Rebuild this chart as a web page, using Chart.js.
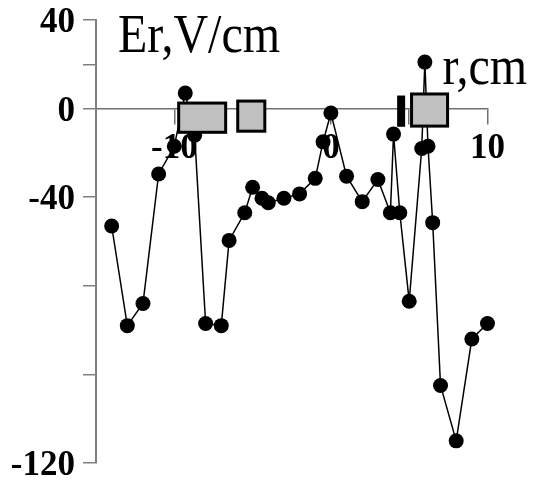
<!DOCTYPE html>
<html>
<head>
<meta charset="utf-8">
<script src="https://cdn.jsdelivr.net/npm/chart.js@4"></script>
<style>
  body { margin: 0; background: #fff; }
  canvas { display: block; }
</style>
</head>
<body>
<canvas id="grafico-er" width="544" height="480"></canvas>
<script>
// radial profile of Er
const rValues = [-14, -13, -12, -11, -10, -9.3, -8.7, -8, -7, -6.5, -5.5, -5, -4.4, -4, -3, -2, -1, -0.5, 0,
  1, 2, 3, 3.8, 4, 4.4, 5, 5.8, 6, 6.2, 6.5, 7, 8, 9, 10];
const erValues = [-53, -98, -88, -29.5, -17, 7, -12, -97, -98, -59.5, -47, -35.5, -40.5, -42.5, -40.5, -38.5, -31.5, -15, -2,
  -30.5, -42, -32, -47, -11.5, -47, -87, -18, 21, -17, -51.5, -125, -150, -104, -97];

const xTickValues = [-15, -10, -5, 0, 5, 10];
const xTickLabels = ["", "-10", "", "0", "", "10"];
const yTickValues = [40, 20, 0, -40, -80, -120, -160];
const yTickLabels = ["40", "", "0", "-40", "", "", "-120"];

// probes / limiters along r: [r1, r2, top, bottom]
const bloques = [
  [-9.72, -6.72, 2.5, -10.7],
  [-5.95, -4.22, 3.4, -10.2],
  [5.15, 7.45, 6.6, -7.9],
];
const barra = [4.23, 4.74, 5.9, -8.2];

const tituloY = "Er,V/cm";
const tituloX = "r,cm";

const fuenteTicks = { family: "Liberation Serif", weight: "bold", size: 35 };

const puntos = rValues.map((r, i) => ({ x: r, y: erValues[i] }));

const dibujarBloques = {
  id: "bloques",
  afterDatasetsDraw(chart) {
    const { ctx, scales: { x, y } } = chart;
    ctx.save();
    ctx.lineWidth = 3;
    ctx.strokeStyle = "#000";
    ctx.fillStyle = "#c0c0c0";
    bloques.forEach(([r1, r2, top, bottom]) => {
      const x1 = x.getPixelForValue(r1);
      const x2 = x.getPixelForValue(r2);
      const y1 = y.getPixelForValue(top);
      const y2 = y.getPixelForValue(bottom);
      ctx.fillRect(x1, y1, x2 - x1, y2 - y1);
      ctx.strokeRect(x1, y1, x2 - x1, y2 - y1);
    });
    const bx1 = x.getPixelForValue(barra[0]);
    const bx2 = x.getPixelForValue(barra[1]);
    const by1 = y.getPixelForValue(barra[2]);
    const by2 = y.getPixelForValue(barra[3]);
    ctx.fillStyle = "#000";
    ctx.fillRect(bx1, by1, bx2 - bx1, by2 - by1);
    ctx.restore();
  },
  afterDraw(chart) {
    const { ctx, chartArea, scales: { y } } = chart;
    ctx.save();
    ctx.fillStyle = "#000";
    ctx.font = "48px 'Liberation Serif'";
    ctx.textBaseline = "alphabetic";
    ctx.textAlign = "left";
    // axis titles, a bit taller than the plain font
    ctx.translate(chartArea.left + 22, chartArea.top + 32);
    ctx.scale(1, 1.15);
    ctx.fillText(tituloY, 0, 0);
    ctx.restore();
    ctx.save();
    ctx.fillStyle = "#000";
    ctx.font = "48px 'Liberation Serif'";
    ctx.translate(chartArea.right - 45, y.getPixelForValue(0) - 25);
    ctx.scale(1, 1.15);
    ctx.fillText(tituloX, 0, 0);
    ctx.restore();
  },
};

const ctx = document.getElementById("grafico-er").getContext("2d");
new Chart(ctx, {
  type: "scatter",
  data: {
    datasets: [
      {
        data: puntos,
        showLine: true,
        borderColor: "#000",
        borderWidth: 1.5,
        backgroundColor: "#000",
        pointRadius: 7.5,
        pointBorderWidth: 0,
        pointBackgroundColor: "#000",
        tension: 0,
        clip: false,
      },
    ],
  },
  options: {
    responsive: false,
    animation: false,
    layout: { padding: { left: 0, top: 20, right: 56.5, bottom: 17 } },
    plugins: { legend: { display: false }, tooltip: { enabled: false } },
    scales: {
      x: {
        type: "linear",
        min: -15,
        max: 10,
        position: { y: 0 },
        afterBuildTicks: (scale) => {
          scale.ticks = xTickValues.map((v) => ({ value: v }));
        },
        ticks: {
          autoSkip: false,
          maxRotation: 0,
          padding: 4,
          color: "#000",
          font: fuenteTicks,
          callback: (value, index) => xTickLabels[index],
        },
        grid: { drawOnChartArea: false, drawTicks: true, tickLength: 15, color: "#707070", lineWidth: 1.5 },
        border: { color: "#707070", width: 1.5 },
      },
      y: {
        type: "linear",
        min: -160,
        max: 40,
        position: "left",
        afterFit: (scale) => {
          scale.width = 96;
          // labels may overhang the plot; keep the axis full height
          scale.paddingTop = 0;
          scale.paddingBottom = 0;
        },
        afterBuildTicks: (scale) => {
          scale.ticks = yTickValues.map((v) => ({ value: v }));
        },
        ticks: {
          autoSkip: false,
          padding: 8,
          labelOffset: 3,
          color: "#000",
          font: fuenteTicks,
          callback: (value, index) => yTickLabels[index],
        },
        grid: { drawOnChartArea: false, drawTicks: true, tickLength: 13, color: "#808080", lineWidth: 1.5 },
        border: { color: "#808080", width: 2 },
      },
    },
  },
  plugins: [dibujarBloques],
});
</script>
</body>
</html>
